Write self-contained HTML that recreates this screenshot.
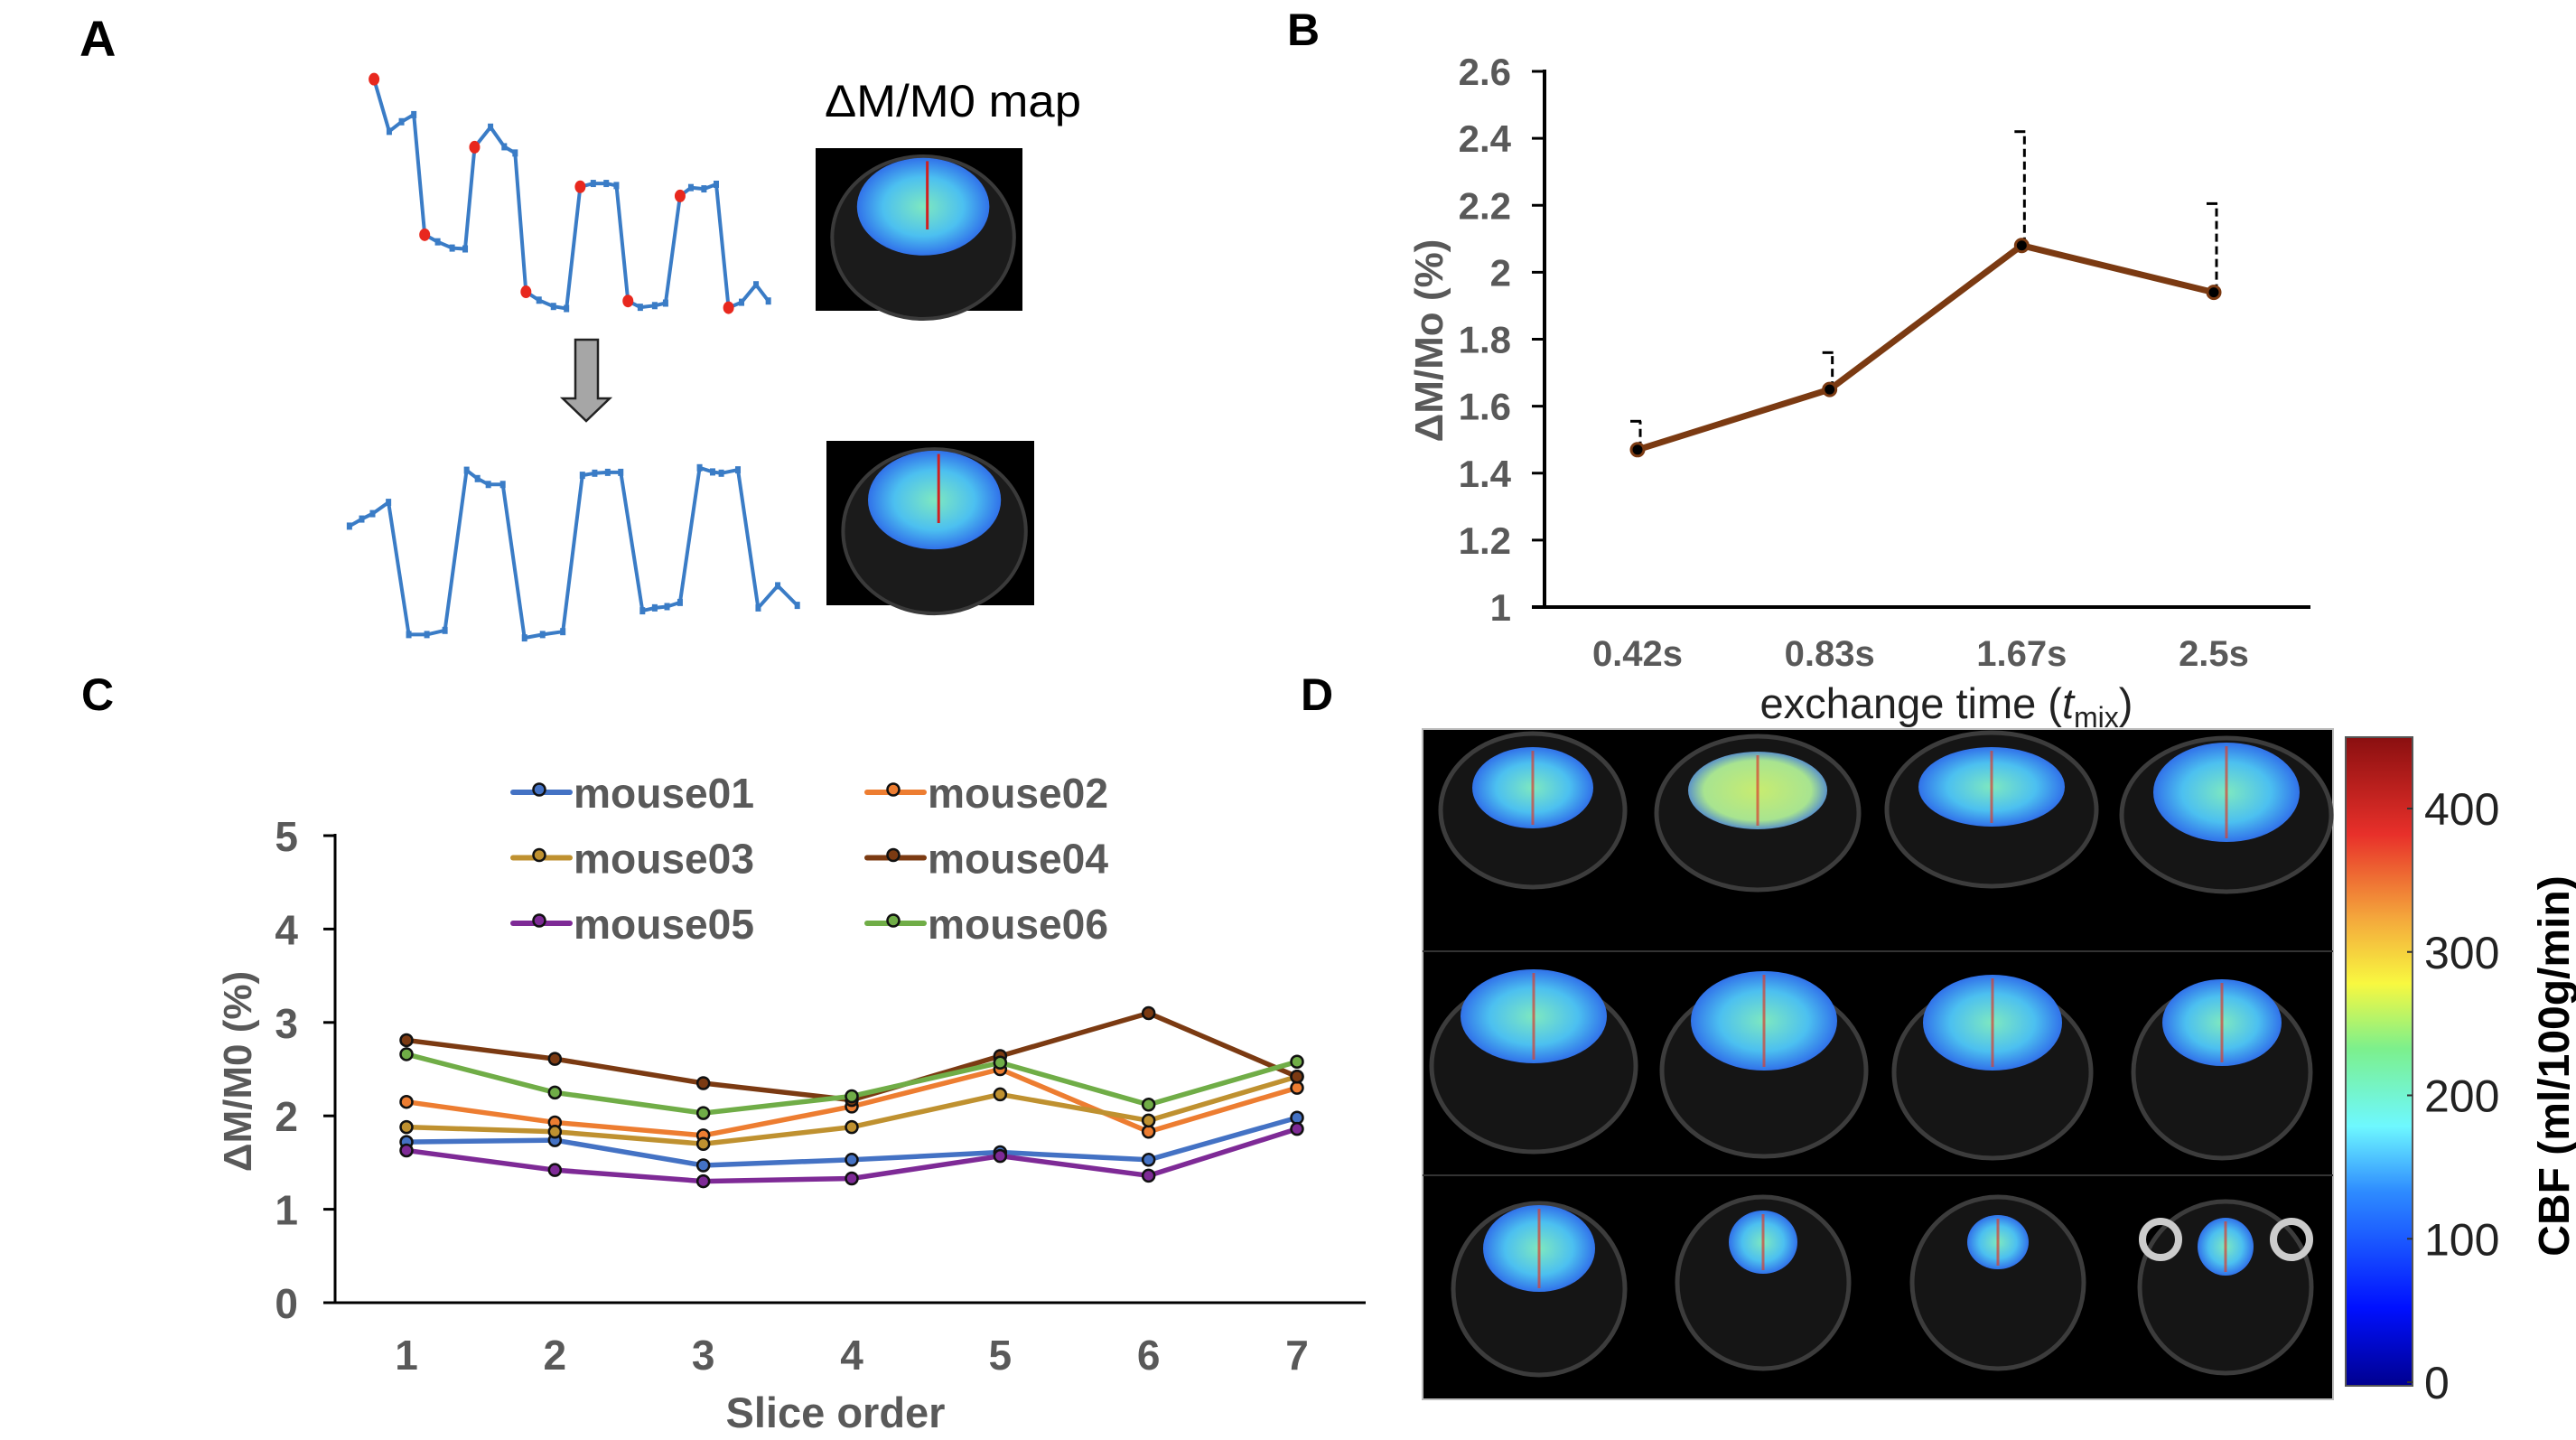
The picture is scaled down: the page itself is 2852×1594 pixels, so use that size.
<!DOCTYPE html>
<html><head><meta charset="utf-8"><style>
html,body{margin:0;padding:0;background:#fff}
svg{display:block}
text{font-family:"Liberation Sans",Arial,sans-serif}
</style></head><body>
<svg id="fig" xmlns="http://www.w3.org/2000/svg" width="2852" height="1594" viewBox="0 0 2852 1594">
<defs>
<linearGradient id="jet" x1="0" y1="1" x2="0" y2="0">
<stop offset="0" stop-color="#00008f"/><stop offset="0.12" stop-color="#0010ff"/><stop offset="0.3" stop-color="#2e8cff"/><stop offset="0.4" stop-color="#6ef8ff"/><stop offset="0.52" stop-color="#7cf08c"/><stop offset="0.62" stop-color="#f8f840"/><stop offset="0.72" stop-color="#f4a83c"/><stop offset="0.85" stop-color="#e8302a"/><stop offset="1" stop-color="#8a0f10"/>
</linearGradient>
<radialGradient id="brainC" cx="0.5" cy="0.5" r="0.55"><stop offset="0" stop-color="#7ee8c0"/><stop offset="0.55" stop-color="#4cc0f0"/><stop offset="1" stop-color="#2a5ee8"/></radialGradient>
<radialGradient id="brainY" cx="0.5" cy="0.5" r="0.55"><stop offset="0" stop-color="#c8ec70"/><stop offset="0.7" stop-color="#a8e490"/><stop offset="1" stop-color="#3a70e0"/></radialGradient>
</defs>
<g id="panelA"></g>
<g id="panelB"></g>
<g id="panelC"></g>
<g id="panelD"></g>
</svg>
<script>
// ---------- data ----------
const rawSignalX = [517,538,555,572,587,605,625,643,656,678,697,712,727,745,765,783,802,820,838,852,868,885,905,920,940,955,973,990,1007,1025,1045,1062];
const rawSignalY = [190,315,292,275,563,580,595,597,353,305,352,367,700,720,735,740,448,440,440,445,722,737,733,727,470,450,453,442,738,725,683,722];
const rawMarked = [0,4,8,12,16,20,24,28];
const corrSignalX = [483,500,515,537,565,590,615,645,660,675,695,725,750,778,805,822,840,858,888,905,922,940,967,985,997,1020,1048,1075,1102];
const corrSignalY = [1262,1245,1232,1205,1522,1522,1512,1128,1148,1162,1162,1530,1522,1515,1140,1135,1133,1133,1465,1458,1455,1445,1122,1132,1135,1127,1458,1405,1452];
const bCategories = ["0.42s","0.83s","1.67s","2.5s"];
const bValues = [1.47,1.65,2.08,1.94];
const bErrTop = [1.555,1.76,2.42,2.205];
const bTicks = [1,1.2,1.4,1.6,1.8,2,2.2,2.4,2.6];
const bTickLabels = ["1","1.2","1.4","1.6","1.8","2","2.2","2.4","2.6"];
const cCategories = ["1","2","3","4","5","6","7"];
const cSeriesNames = ["mouse01","mouse02","mouse03","mouse04","mouse05","mouse06"];
const mouse01 = [1.72,1.74,1.47,1.53,1.61,1.53,1.98];
const mouse02 = [2.15,1.93,1.79,2.10,2.50,1.83,2.30];
const mouse03 = [1.88,1.83,1.70,1.88,2.23,1.95,2.42];
const mouse04 = [2.81,2.61,2.35,2.17,2.64,3.10,2.42];
const mouse05 = [1.63,1.42,1.30,1.33,1.57,1.36,1.86];
const mouse06 = [2.66,2.25,2.03,2.21,2.57,2.12,2.58];
const cTicks = [0,1,2,3,4,5];
const cbTicks = [0,100,200,300,400];

const NS="http://www.w3.org/2000/svg";
function mk(parent,tag,attrs,txt){const e=document.createElementNS(NS,tag);for(const k in attrs)e.setAttribute(k,attrs[k]);if(txt!==undefined)e.textContent=txt;parent.appendChild(e);return e;}

// ---------- Panel A ----------
const A=document.getElementById('panelA');
let t=mk(A,'text',{x:88,y:62,'font-size':56,'font-weight':'bold',fill:'#000'},'A');


const ax=x=>x*0.801, ay=y=>y*0.4615;
function sigPath(xs,ys){return xs.map((x,i)=>(i?'L':'M')+ax(x).toFixed(1)+','+ay(ys[i]).toFixed(1)).join(' ');}
let p=mk(A,'path',{d:sigPath(rawSignalX,rawSignalY),fill:'none',stroke:'#3a7cc6','stroke-width':4,'stroke-linejoin':'round'});


rawSignalX.forEach((x,i)=>{const m=mk(A,'rect',{x:ax(x)-3,y:ay(rawSignalY[i])-4,width:6,height:8,fill:'#3a7cc6'});

});
rawMarked.forEach(i=>{const c=mk(A,'ellipse',{cx:ax(rawSignalX[i]),cy:ay(rawSignalY[i]),rx:6,ry:7,fill:'#e8281e'});

});
p=mk(A,'path',{d:sigPath(corrSignalX,corrSignalY),fill:'none',stroke:'#3a7cc6','stroke-width':4,'stroke-linejoin':'round'});


corrSignalX.forEach((x,i)=>{const m=mk(A,'rect',{x:ax(x)-3,y:ay(corrSignalY[i])-4,width:6,height:8,fill:'#3a7cc6'});

});
t=mk(A,'text',{x:913,y:129,'font-size':50,fill:'#000',textLength:284,lengthAdjust:'spacingAndGlyphs'},'ΔM/M0 map');


let ar=mk(A,'path',{d:'M637,376 L662,376 L662,441 L675,441 L649,466 L623,441 L637,441 Z',fill:'#a6a6a6',stroke:'#222','stroke-width':2.5});


function smallMap(x,y,w,h,name){const g=mk(A,'g',{});


mk(g,'rect',{x:x,y:y,width:w,height:h,fill:'#000'});
mk(g,'ellipse',{cx:x+w*0.52,cy:y+h*0.55,rx:w*0.44,ry:h*0.5,fill:'#1b1b1b',stroke:'#3a3a3a','stroke-width':4});
mk(g,'ellipse',{cx:x+w*0.52,cy:y+h*0.36,rx:w*0.32,ry:h*0.3,fill:'url(#brainC)'});
mk(g,'line',{x1:x+w*0.54,y1:y+h*0.08,x2:x+w*0.54,y2:y+h*0.5,stroke:'#d02020','stroke-width':3});}
smallMap(903,164,229,180,'map-image-raw');
smallMap(915,488,230,182,'map-image-corrected');

// ---------- Panel B ----------
const B=document.getElementById('panelB');
t=mk(B,'text',{x:1425,y:50,'font-size':50,'font-weight':'bold',fill:'#000'},'B');


const bx0=1710,bx1=2558,by=v=>672-(v-1)*(672-79)/1.6;
const bX=i=>1813+i*(2451-1813)/3;
let l=mk(B,'line',{x1:bx0,y1:77,x2:bx0,y2:673,stroke:'#000','stroke-width':4});


l=mk(B,'line',{x1:bx0-14,y1:672,x2:bx1,y2:672,stroke:'#000','stroke-width':4});


bTicks.forEach((v,i)=>{const tk=mk(B,'line',{x1:bx0-14,y1:by(v),x2:bx0,y2:by(v),stroke:'#000','stroke-width':3});


const tl=mk(B,'text',{x:1673,y:by(v)+15,'font-size':42,'font-weight':'bold',fill:'#595959','text-anchor':'end'},bTickLabels[i]);

});
bCategories.forEach((c,i)=>{const tl=mk(B,'text',{x:bX(i),y:737,'font-size':40,'font-weight':'bold',fill:'#595959','text-anchor':'middle'},c);

});
bValues.forEach((v,i)=>{const e=mk(B,'line',{x1:bX(i)+3,y1:by(v),x2:bX(i)+3,y2:by(bErrTop[i]),stroke:'#000','stroke-width':3,'stroke-dasharray':'9,5'});


const c=mk(B,'line',{x1:bX(i)-8,y1:by(bErrTop[i]),x2:bX(i)+4,y2:by(bErrTop[i]),stroke:'#000','stroke-width':3});

});
p=mk(B,'path',{d:bValues.map((v,i)=>(i?'L':'M')+bX(i)+','+by(v)).join(' '),fill:'none',stroke:'#7b3a12','stroke-width':7});


bValues.forEach((v,i)=>{const c=mk(B,'circle',{cx:bX(i),cy:by(v),r:7,fill:'#000',stroke:'#7b3a12','stroke-width':3});

});
t=mk(B,'text',{x:0,y:0,'font-size':44,'font-weight':'bold',fill:'#595959','text-anchor':'middle',transform:'translate(1597,377) rotate(-90)'},'ΔM/Mo (%)');


t=mk(B,'text',{x:2155,y:795,'font-size':47,fill:'#222','text-anchor':'middle'});


t.innerHTML='exchange time (<tspan font-style="italic">t</tspan><tspan font-size="32" dy="10">mix</tspan><tspan dy="-10">)</tspan>';

// ---------- Panel C ----------
const C=document.getElementById('panelC');
t=mk(C,'text',{x:90,y:786,'font-size':50,'font-weight':'bold',fill:'#000'},'C');


t=mk(C,'text',{x:1440,y:786,'font-size':50,'font-weight':'bold',fill:'#000'},'D');


const cy=v=>1442-v*(1442-925)/5, cX=i=>450+i*(1436-450)/6;
l=mk(C,'line',{x1:371,y1:923,x2:371,y2:1443,stroke:'#000','stroke-width':3});


l=mk(C,'line',{x1:358,y1:1442,x2:1512,y2:1442,stroke:'#000','stroke-width':3});


cTicks.forEach(v=>{const tk=mk(C,'line',{x1:358,y1:cy(v),x2:371,y2:cy(v),stroke:'#000','stroke-width':3});


const tl=mk(C,'text',{x:330,y:cy(v)+17,'font-size':46,'font-weight':'bold',fill:'#595959','text-anchor':'end'},String(v));

});
cCategories.forEach((c,i)=>{const tl=mk(C,'text',{x:cX(i),y:1516,'font-size':46,'font-weight':'bold',fill:'#595959','text-anchor':'middle'},c);

});
t=mk(C,'text',{x:925,y:1580,'font-size':47,'font-weight':'bold',fill:'#595959','text-anchor':'middle'},'Slice order');


t=mk(C,'text',{x:0,y:0,'font-size':44,'font-weight':'bold',fill:'#595959','text-anchor':'middle',transform:'translate(278,1186) rotate(-90)'},'ΔM/M0 (%)');


const cSeries=[mouse01,mouse02,mouse03,mouse04,mouse05,mouse06];
const cColors=['#4472c4','#ed7d31','#bf9130','#7b3a12','#7e2a96','#70ad47'];
cSeries.forEach((s,k)=>{const pl=mk(C,'path',{d:s.map((v,i)=>(i?'L':'M')+cX(i)+','+cy(v)).join(' '),fill:'none',stroke:cColors[k],'stroke-width':5.5,'stroke-linejoin':'round'});


s.forEach((v,i)=>{const c=mk(C,'circle',{cx:cX(i),cy:cy(v),r:6.5,fill:cColors[k],stroke:'#111','stroke-width':2.5});

});});
cSeriesNames.forEach((n,k)=>{const col=k%2,row=Math.floor(k/2);const lx=col?960:568,ly=877+row*72.5;
const g=mk(C,'g',{});


mk(g,'line',{x1:lx,y1:ly,x2:lx+63,y2:ly,stroke:cColors[k],'stroke-width':6,'stroke-linecap':'round'});
mk(g,'circle',{cx:lx+29,cy:ly-3,r:6.5,fill:cColors[k],stroke:'#111','stroke-width':2.5});
mk(g,'text',{x:lx+67,y:ly+17,'font-size':46,'font-weight':'bold',fill:'#595959',textLength:200,lengthAdjust:'spacingAndGlyphs'},n);});

// ---------- Panel D ----------
const D=document.getElementById('panelD');
let r=mk(D,'rect',{x:1575,y:807,width:1008,height:742,fill:'#000',stroke:'#bbb','stroke-width':2});


const brains=[[1697,872,67,45,0],[1946,875,77,43,1],[2205,871,81,44,0],[2465,877,81,55,0],
[1698,1125,81,52,0],[1953,1130,81,55,0],[2206,1132,77,53,0],[2460,1132,66,48,0],
[1704,1382,62,48,0],[1952,1375,38,35,0],[2212,1375,34,30,0],[2464,1380,31,32,0]];
brains.forEach((b,i)=>{const g=mk(D,'g',{});


const row=Math.floor(i/4),col=i%4;
const hcx=1575+126+col*252;
const hcy=row===0?b[1]+25:(row===1?b[1]+55:b[1]+45);
const hrx=row===0?b[2]+35:(row===1?b[2]+32:95);
const hry=row===0?85:95;
mk(g,'ellipse',{cx:b[0],cy:hcy,rx:hrx,ry:hry,fill:'#151515',stroke:'#3c3c3c','stroke-width':5});
mk(g,'ellipse',{cx:b[0],cy:b[1],rx:b[2],ry:b[3],fill:b[4]?'url(#brainY)':'url(#brainC)'});
mk(g,'line',{x1:b[0],y1:b[1]-b[3]+4,x2:b[0],y2:b[1]+b[3]-4,stroke:'#d84030','stroke-width':3,opacity:0.7});});
[1053,1301].forEach(y=>{const d=mk(D,'line',{x1:1575,y1:y,x2:2583,y2:y,stroke:'#333','stroke-width':2});

});
[2392,2537].forEach(x=>{const c=mk(D,'circle',{cx:x,cy:1372,r:20,fill:'none',stroke:'#ccc','stroke-width':8});

});
r=mk(D,'rect',{x:2597,y:816,width:74,height:718,fill:'url(#jet)',stroke:'#555','stroke-width':2});


const cbY=v=>1530-v*(1530-895)/400;
cbTicks.forEach(v=>{const tk=mk(D,'line',{x1:2665,y1:cbY(v),x2:2671,y2:cbY(v),stroke:'#333','stroke-width':2});


const tl=mk(D,'text',{x:2684,y:cbY(v)+18,'font-size':50,fill:'#222'},String(v));

});
t=mk(D,'text',{x:0,y:0,'font-size':48,'font-weight':'bold',fill:'#000','text-anchor':'middle',transform:'translate(2844,1180) rotate(-90)'},'CBF (ml/100g/min)');


</script>
</body></html>
